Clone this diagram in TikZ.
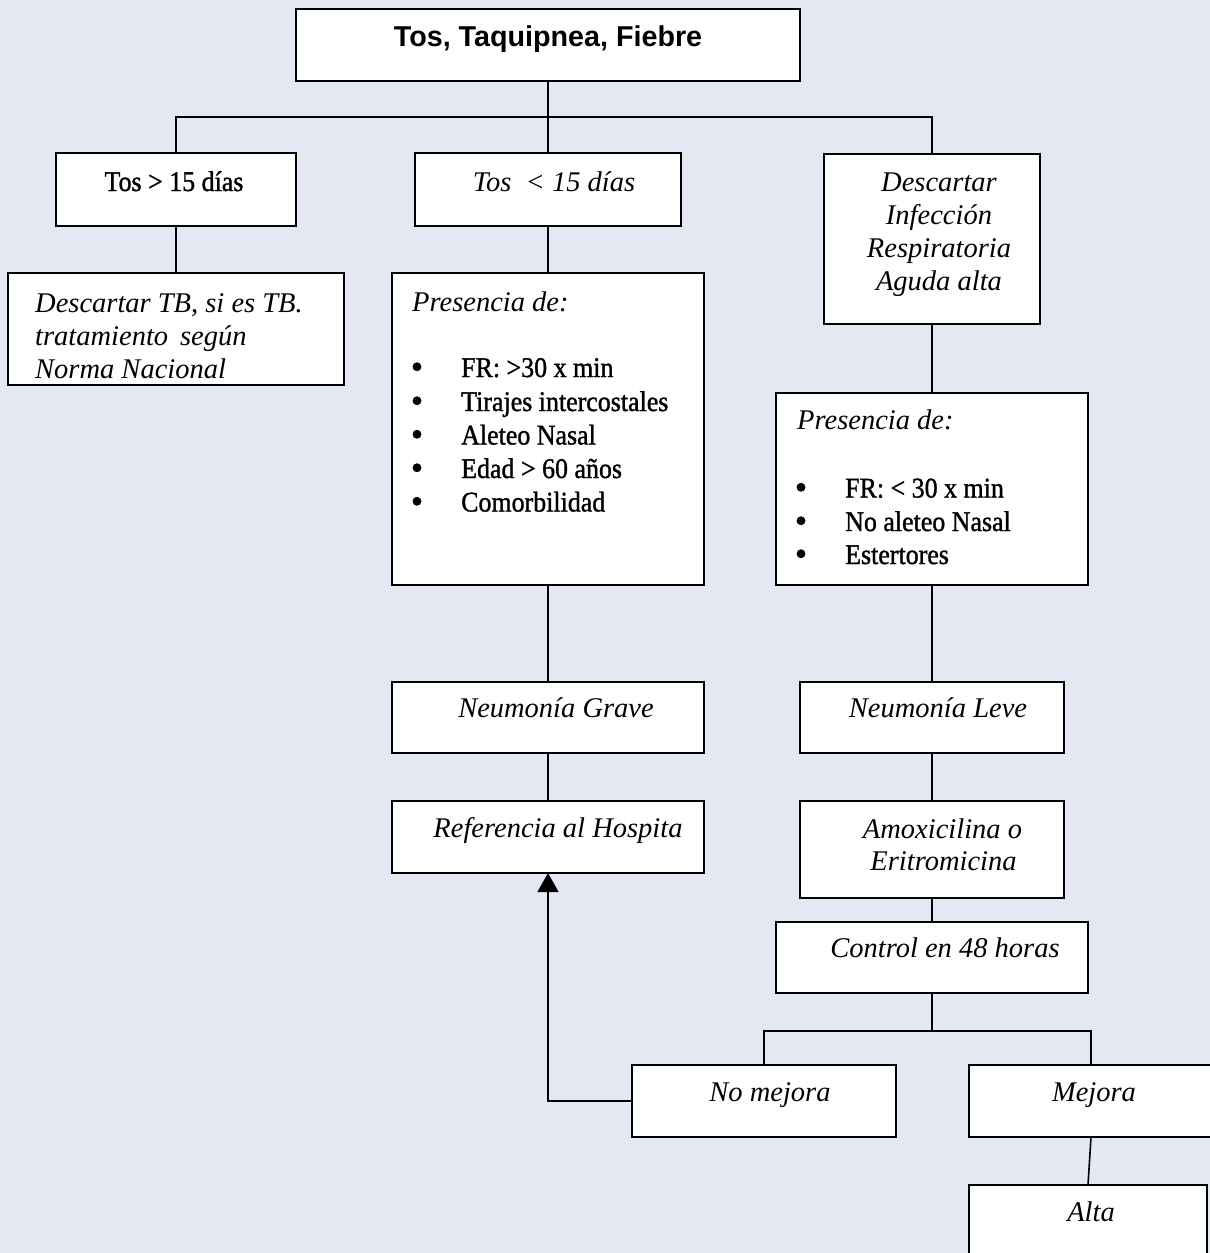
\documentclass[tikz,border=0pt]{standalone}
\usepackage{fontspec}
\setmainfont{Liberation Serif}
\newfontfamily\narrowserif[FakeStretch=0.91,FakeBold=1.2]{Liberation Serif}
\newfontfamily\bulletfont[FakeBold=2]{Liberation Serif}
\newfontfamily\headsans{Liberation Sans}
\usetikzlibrary{arrows.meta}
\definecolor{pagebg}{RGB}{228,232,243}
\begin{document}
\begin{tikzpicture}[x=1pt,y=-1pt,
  box/.style={draw=black, fill=white, line width=1.8pt, rectangle, inner sep=0pt, outer sep=0pt, anchor=north west},
  link/.style={draw=black, line width=1.6pt},
  lbl/.style={inner sep=0pt, anchor=base, font=\fontsize{28.5}{34}\selectfont\itshape},
  lblw/.style={lbl, anchor=base west},
  up/.style={inner sep=0pt, anchor=base west, font=\fontsize{28.5}{34}\selectfont\narrowserif},
  bul/.style={inner sep=0pt, anchor=base, font=\fontsize{34}{34}\selectfont\bulletfont},
]
\fill[pagebg] (0,0) rectangle (1210,1253);
\useasboundingbox (0,0) rectangle (1210,1253);
\clip (0,0) rectangle (1210,1253);

% boxes
\node[box, minimum width=504pt, minimum height=72pt] (top) at (296,9) {};
\node[box, minimum width=240pt, minimum height=73pt] (A) at (56,153) {};
\node[box, minimum width=266pt, minimum height=73pt] (B) at (415,153) {};
\node[box, minimum width=216pt, minimum height=170pt] (C) at (824,154) {};
\node[box, minimum width=336pt, minimum height=112pt] (D) at (8,273) {};
\node[box, minimum width=312pt, minimum height=312pt] (E) at (392,273) {};
\node[box, minimum width=312pt, minimum height=192pt] (F) at (776,393) {};
\node[box, minimum width=312pt, minimum height=71pt] (G) at (392,682) {};
\node[box, minimum width=312pt, minimum height=72pt] (H) at (392,801) {};
\node[box, minimum width=264pt, minimum height=71pt] (I) at (800,682) {};
\node[box, minimum width=264pt, minimum height=97pt] (J) at (800,801) {};
\node[box, minimum width=312pt, minimum height=71pt] (K) at (776,922) {};
\node[box, minimum width=264pt, minimum height=72pt] (L) at (632,1065) {};
\node[box, minimum width=244pt, minimum height=72pt] (M) at (969,1065) {};
\node[box, minimum width=238pt, minimum height=100pt] (N) at (969,1185) {};

% connectors
\draw[link] (top.south) -- ++(0,36) coordinate (bus1);
\draw[link] (A.north) |- (bus1) -| (C.north);
\draw[link] (bus1) -- (B.north);
\draw[link] (A.south) -- (D.north);
\draw[link] (B.south) -- (E.north);
\draw[link] (C.south) -- (F.north);
\draw[link] (E.south) -- (G.north);
\draw[link] (F.south) -- (I.north);
\draw[link] (G.south) -- (H.north);
\draw[link] (I.south) -- (J.north);
\draw[link] (J.south) -- (K.north);
\draw[link] (K.south) -- ++(0,38) coordinate (bus2);
\draw[link] (L.north) |- (bus2) -| (M.north);
\draw[link] (M.south) -- (N.north);
\draw[link, -{Triangle[width=21pt,length=19pt]}] (L.west) -| (H.south);

% texts
\node[inner sep=0pt, anchor=base, font=\fontsize{28.7}{34}\selectfont\headsans\bfseries] (ttl) at (548,46) {Tos, Taquipnea, Fiebre};
\node[up, anchor=base] (tA) at (174,191) {Tos > 15 días};
\node[lbl] (tB) at (554,191) {Tos\ \ < 15 días};

\node[lbl] (tC1) at (939,191) {Descartar};
\node[lbl] (tC2) at (939,224) {Infección};
\node[lbl] (tC3) at (939,257) {Respiratoria};
\node[lbl] (tC4) at (939,290.5) {Aguda alta};

\node[lblw] (tD1) at (35,312) {Descartar TB, si es TB.};
\node[lblw] (tD2) at (35,345) {tratamiento\ \,según};
\node[lblw] (tD3) at (35,378) {Norma Nacional};

\node[lblw] (tE0) at (412,311) {Presencia de:};
\foreach \yy/\txt [count=\i] in {377/{FR: >30 x min}, 411/{Tirajes intercostales}, 444.5/{Aleteo Nasal}, 478/{Edad > 60 años}, 511.5/{Comorbilidad}}{
  \node[bul] (eb\i) at (417,\yy+1) {\textbullet};
  \node[up] (et\i) at (461,\yy) {\txt};
}

\node[lblw] (tF0) at (797,429.5) {Presencia de:};
\foreach \yy/\txt [count=\i] in {497.5/{FR: < 30 x min}, 531/{No aleteo Nasal}, 564/{Estertores}}{
  \node[bul] (fb\i) at (801,\yy+1) {\textbullet};
  \node[up] (ft\i) at (845,\yy) {\txt};
}

\node[lbl] (tG) at (556,717.5) {Neumonía Grave};
\node[lbl] (tH) at (558,837.5) {Referencia al Hospita};
\node[lbl] (tI) at (938,717.5) {Neumonía Leve};
\node[lbl] (tJ1) at (942.5,838.5) {Amoxicilina o};
\node[lbl] (tJ2) at (943.5,870) {Eritromicina};
\node[lbl] (tK) at (945,957.5) {Control en 48 horas};
\node[lbl] (tL) at (770,1101) {No mejora};
\node[lbl] (tM) at (1094,1101) {Mejora};
\node[lbl] (tN) at (1091,1221.5) {Alta};
\end{tikzpicture}
\end{document}
